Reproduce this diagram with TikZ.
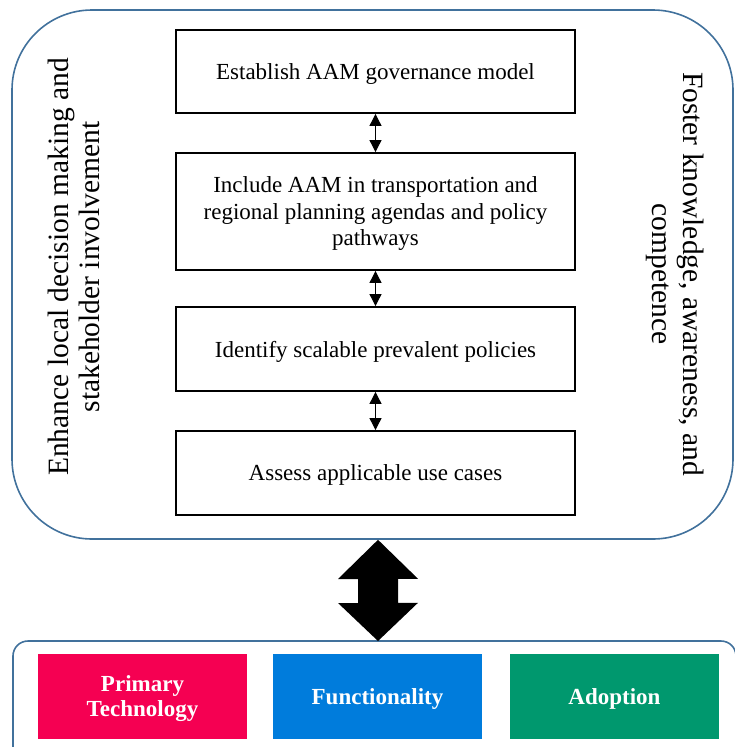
\documentclass[tikz,border=0pt]{standalone}
\usepackage{fontspec}
\setmainfont{Liberation Serif}
\usetikzlibrary{arrows.meta,calc}
\definecolor{frameblue}{RGB}{65,113,156}
\definecolor{ptred}{RGB}{245,0,82}
\definecolor{fnblue}{RGB}{0,124,220}
\definecolor{adgreen}{RGB}{0,152,110}
\begin{document}
\begin{tikzpicture}[x=1pt,y=-1pt,
  stepbox/.style={draw,line width=1.9pt,minimum width=399pt,align=center,inner sep=0pt,
    text depth=0pt,font=\fontsize{23}{26.5}\selectfont},
  sidetext/.style={align=center,font=\fontsize{29.5}{31.5}\selectfont},
  catbox/.style={minimum width=209pt,minimum height=85pt,inner sep=0pt,align=center,
    text depth=0pt,text=white,font=\bfseries\fontsize{23}{25}\selectfont},
  link/.style={{Triangle[length=12pt,width=12pt]}-{Triangle[length=12pt,width=12pt]},line width=1.1pt}]
\useasboundingbox (0,0) rectangle (734,747);
% outer frame
\node[draw=frameblue,line width=1.6pt,rounded corners=80pt,minimum width=721pt,minimum height=529pt,inner sep=0pt] (outer) at (372.5,274.5) {};
% steps
\node[stepbox,minimum height=83pt] (b1) at (375.5,71.5) {Establish AAM governance model};
\node[stepbox,minimum height=117pt] (b2) at (375.5,211.5) {Include AAM in transportation and\\regional planning agendas and policy\\pathways};
\node[stepbox,minimum height=84pt] (b3) at (375.5,349) {Identify scalable prevalent policies};
\node[stepbox,minimum height=84pt] (b4) at (375.5,473) {Assess applicable use cases};
\draw[link] (b1.south) -- (b2.north);
\draw[link] (b2.south) -- (b3.north);
\draw[link] (b3.south) -- (b4.north);
% side texts
\node[sidetext,rotate=90] (lt) at (74,267) {Enhance local decision making and\\stakeholder involvement};
\node[sidetext,rotate=-90] (rt) at (675,274) {Foster knowledge, awareness, and\\competence};
% bottom frame
\coordinate (btop) at (378,641);
\draw[frameblue,line width=1.6pt,rounded corners=15pt] (13,760) -- (13,641) -- (736,641) -- (736,760);
% big double arrow
\fill ($(outer.south)+(5.5,0)$) -- ++(40,39) -- ++(-20,0) -- ++(0,24) -- ++(20,0) -- (btop) -- ++(-40,-38) -- ++(20,0) -- ++(0,-24) -- ++(-20,0) -- cycle;
% categories
\node[catbox,fill=ptred] (pt) at (142.5,696.5) {Primary\\Technology};
\node[catbox,fill=fnblue] (fn) at (377.5,696.5) {Functionality};
\node[catbox,fill=adgreen] (ad) at (614.5,696.5) {Adoption};
\end{tikzpicture}
\end{document}
